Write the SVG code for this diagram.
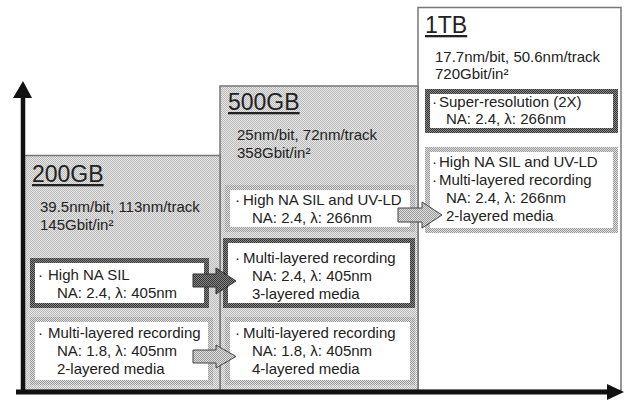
<svg xmlns="http://www.w3.org/2000/svg" width="625" height="400" viewBox="0 0 625 400">
<defs>
<pattern id="pPanel" width="2" height="2" patternUnits="userSpaceOnUse"><rect width="2" height="2" fill="#e8e8e8"/><rect width="1" height="1" fill="#b8b8b8"/><rect x="1" y="1" width="1" height="1" fill="#b8b8b8"/></pattern>
<pattern id="pDark" width="2" height="2" patternUnits="userSpaceOnUse"><rect width="2" height="2" fill="#8a8a8a"/><rect width="1" height="1" fill="#333"/><rect x="1" y="1" width="1" height="1" fill="#333"/></pattern>
<pattern id="pLight" width="2" height="2" patternUnits="userSpaceOnUse"><rect width="2" height="2" fill="#e0e0e0"/><rect width="1" height="1" fill="#999"/><rect x="1" y="1" width="1" height="1" fill="#999"/></pattern>
</defs>
<style>
text{font-family:"Liberation Sans",Arial,sans-serif;fill:#222;}
.t{font-size:15px;}
.h{font-size:23px;text-decoration:underline;}
.panel{fill:url(#pPanel);stroke:#777;stroke-width:1.5;}
.panelw{fill:#fff;stroke:#777;stroke-width:1.5;}
.bd{fill:#fff;stroke:url(#pDark);stroke-width:5;}
.bl{fill:#fff;stroke:url(#pLight);stroke-width:5;}
.ad{fill:url(#pDark);stroke:#333;stroke-width:1;}
.al{fill:url(#pLight);stroke:#444;stroke-width:1;}
</style>
<rect width="625" height="400" fill="#fff"/>
<g id="panel-1TB">
<rect class="panelw" x="418" y="7.5" width="203" height="383"/>
<text class="h" x="425" y="33">1TB</text>
<text class="t" x="435" y="62">17.7nm/bit, 50.6nm/track</text>
<text class="t" x="435" y="79">720Gbit/in²</text>
</g>
<g id="panel-500GB">
<rect class="panel" x="220" y="86" width="198" height="304.5"/>
<text class="h" x="228" y="110">500GB</text>
<text class="t" x="237" y="140">25nm/bit, 72nm/track</text>
<text class="t" x="237" y="158">358Gbit/in²</text>
</g>
<g id="panel-200GB">
<rect class="panel" x="22" y="155.5" width="198" height="235"/>
<text class="h" x="32" y="182">200GB</text>
<text class="t" x="40" y="212">39.5nm/bit, 113nm/track</text>
<text class="t" x="40" y="230">145Gbit/in²</text>
</g>
<g id="box-200-sil">
<rect class="bd" x="32.5" y="260.5" width="174" height="45"/>
<text class="t" x="38" y="280">·<tspan x="48">High NA SIL</tspan></text>
<text class="t" x="57" y="298">NA: 2.4, λ: 405nm</text>
</g>
<g id="box-200-ml">
<rect class="bl" x="32.5" y="319.5" width="178" height="63"/>
<text class="t" x="38" y="338">·<tspan x="48">Multi-layered recording</tspan></text>
<text class="t" x="57" y="356">NA: 1.8, λ: 405nm</text>
<text class="t" x="57" y="374">2-layered media</text>
</g>
<g id="box-500-sil">
<rect class="bl" x="227.5" y="187.5" width="185" height="42"/>
<text class="t" x="235" y="205">·<tspan x="243">High NA SIL and UV-LD</tspan></text>
<text class="t" x="252" y="223">NA: 2.4, λ: 266nm</text>
</g>
<g id="box-500-ml3">
<rect class="bd" x="225.5" y="240.5" width="187" height="65"/>
<text class="t" x="235" y="263">·<tspan x="243">Multi-layered recording</tspan></text>
<text class="t" x="252" y="281">NA: 2.4, λ: 405nm</text>
<text class="t" x="252" y="299">3-layered media</text>
</g>
<g id="box-500-ml4">
<rect class="bl" x="227.5" y="319.5" width="185" height="63"/>
<text class="t" x="235" y="338">·<tspan x="243">Multi-layered recording</tspan></text>
<text class="t" x="252" y="356">NA: 1.8, λ: 405nm</text>
<text class="t" x="252" y="374">4-layered media</text>
</g>
<g id="box-1TB-sr">
<rect class="bd" x="427.5" y="91.5" width="188" height="39"/>
<text class="t" x="432" y="107">·<tspan x="439">Super-resolution (2X)</tspan></text>
<text class="t" x="446" y="124">NA: 2.4, λ: 266nm</text>
</g>
<g id="box-1TB-ml">
<rect class="bl" x="427.5" y="149.5" width="188" height="81"/>
<text class="t" x="432" y="167">·<tspan x="439">High NA SIL and UV-LD</tspan></text>
<text class="t" x="432" y="185">·<tspan x="439">Multi-layered recording</tspan></text>
<text class="t" x="446" y="203">NA: 2.4, λ: 266nm</text>
<text class="t" x="446" y="221">2-layered media</text>
</g>
<g id="connectors">
<polygon class="ad" points="193,274 216,274 216,268 236,281 216,294 216,287 193,287"/>
<polygon class="al" points="193,350 216,350 216,345 236,356.5 216,368 216,363 193,363"/>
<polygon class="al" points="398,208 422,208 422,202 442,215 422,228 422,222 398,222"/>
</g>
<g id="axes">
<line x1="23" y1="96" x2="23" y2="394" stroke="#111" stroke-width="4.5"/>
<polygon points="13,98 23,81 32,98" fill="#111"/>
<line x1="16" y1="392" x2="609" y2="392" stroke="#111" stroke-width="5"/>
<polygon points="607,384 624,392 607,400" fill="#111"/>
</g>
</svg>
